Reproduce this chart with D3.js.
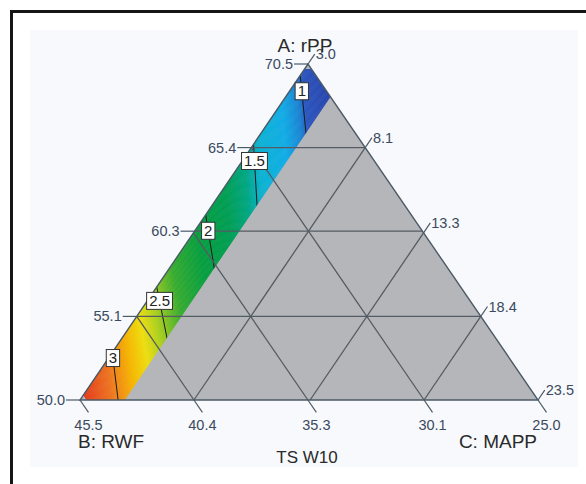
<!DOCTYPE html>
<html>
<head>
<meta charset="utf-8">
<script src="https://cdn.jsdelivr.net/npm/d3@7"></script>
<style>
  body { margin: 0; background: #fff; }
</style>
</head>
<body>
<div id="chart"></div>
<script>
// mixture region: A + B + C = 98.5, each component spans 20.5
const aTicks = [50.0, 55.1, 60.3, 65.4, 70.5];
const bTicks = [45.5, 40.4, 35.3, 30.1, 25.0];
const cTicks = [3.0, 8.1, 13.3, 18.4, 23.5];
const axisNames = ["A: rPP", "B: RWF", "C: MAPP"];
const title = "TS W10";

// contour levels: A where each line meets C = 3.0 and where it meets C = 5.0
const levels = [1, 1.5, 2, 2.5, 3];
const aAtLowC = [69.8, 65.6, 61.3, 56.9, 52.9];
const aAtHighC = [66.3, 61.9, 58.05, 53.8, 49.5];
const labelC = [3.55, 3.55, 3.6, 3.55, 3.2];

// colour ramp of the response
const colorStops = [0.75, 0.98, 1.05, 1.2, 1.45, 1.6, 1.8, 2.1, 2.35, 2.55, 2.7, 2.85, 3.05, 3.4];
const colorList = ["#2a46ae", "#2b56c0", "#1c86d6", "#12aee8", "#0cb4d4", "#00a884", "#00a055",
                   "#07a040", "#38ad30", "#a8d020", "#f0e010", "#f8b800", "#f07820", "#e42a1e"];

// feasible (coloured) part of the simplex
const cMax = 5.0, aMax = 70.2, bMax = 45.2;

const width = 586, height = 484;
const total = aTicks[0] + bTicks[0] + cTicks[0]; // 98.5
const PA = [308, 64], PB = [80, 400], PC = [538, 400];

const fa = d3.scaleLinear().domain([aTicks[0], aTicks[4]]).range([0, 1]);
const fc = d3.scaleLinear().domain([cTicks[0], cTicks[4]]).range([0, 1]);

function xy(A, C) {
  const a = fa(A), c = fc(C), b = 1 - a - c;
  return [a * PA[0] + b * PB[0] + c * PC[0], a * PA[1] + b * PB[1] + c * PC[1]];
}

const svg = d3.select("#chart").append("svg")
  .attr("width", width).attr("height", height)
  .style("font-family", "'Liberation Sans', Arial, sans-serif");

// frame + faint panel
svg.append("rect").attr("x", 30).attr("y", 30).attr("width", 548).attr("height", 437)
  .attr("fill", "#f7f9fc");
svg.append("rect").attr("x", 11.5).attr("y", 11.5).attr("width", 700).attr("height", 600)
  .attr("fill", "none").attr("stroke", "#151515").attr("stroke-width", 3);

// grey triangle
svg.append("path")
  .attr("d", "M" + [PA, PB, PC].join("L") + "Z")
  .attr("fill", "#b5b6b9");

// feasible strip
const strip = [
  [aMax, cTicks[0]], [aMax, total - aMax - bTicks[4]], [total - cMax - bTicks[4], cMax],
  [aTicks[0], cMax], [aTicks[0], total - aTicks[0] - bMax], [total - bMax - cTicks[0], cTicks[0]]
].map(d => xy(d[0], d[1]));

svg.append("clipPath").attr("id", "strip-clip")
  .append("path").attr("d", "M" + strip.join("L") + "Z");

const color = d3.scaleLinear().domain(colorStops).range(colorList).clamp(true);
const aLow = d3.scaleLinear().domain(levels).range(aAtLowC);
const aHigh = d3.scaleLinear().domain(levels).range(aAtHighC);

// isoline through level t, in pixel coords, stretched past the strip
function iso(t) {
  const a0 = aLow(t), a1 = aHigh(t);
  const c0 = 2, c1 = 6;
  const aAt = c => a0 + (a1 - a0) * (c - cTicks[0]) / (cMax - cTicks[0]);
  return [xy(aAt(c0), c0), xy(aAt(c1), c1)];
}

const fill = svg.append("g").attr("clip-path", "url(#strip-clip)");
const step = 0.01;
const bands = d3.range(colorStops[0], colorStops[colorStops.length - 1], step);
fill.selectAll("path")
  .data(bands)
  .join("path")
  .attr("d", t => {
    const l0 = iso(t), l1 = iso(t + step);
    return "M" + [l0[0], l0[1], l1[1], l1[0]].join("L") + "Z";
  })
  .attr("fill", t => color(t + step / 2))
  .attr("stroke", t => color(t + step / 2))
  .attr("stroke-width", 0.6);

// contour lines
fill.selectAll("line.contour")
  .data(levels)
  .join("line")
  .attr("class", "contour")
  .attr("x1", t => iso(t)[0][0]).attr("y1", t => iso(t)[0][1])
  .attr("x2", t => iso(t)[1][0]).attr("y2", t => iso(t)[1][1])
  .attr("stroke", "#1a1a1a").attr("stroke-width", 1);

// grid lines
const grid = svg.append("g").attr("stroke", "#545b63").attr("stroke-width", 1.3);
aTicks.slice(1, 4).forEach(A => {
  const p = xy(A, cTicks[0]), q = xy(A, total - A - bTicks[4]);
  grid.append("line").attr("x1", p[0]).attr("y1", p[1]).attr("x2", q[0]).attr("y2", q[1]);
});
bTicks.slice(1, 4).forEach(B => {
  const p = xy(aTicks[0], total - aTicks[0] - B), q = xy(total - B - cTicks[0], cTicks[0]);
  grid.append("line").attr("x1", p[0]).attr("y1", p[1]).attr("x2", q[0]).attr("y2", q[1]);
});
cTicks.slice(1, 4).forEach(C => {
  const p = xy(aTicks[0], C), q = xy(total - C - bTicks[4], C);
  grid.append("line").attr("x1", p[0]).attr("y1", p[1]).attr("x2", q[0]).attr("y2", q[1]);
});

// outline
svg.append("path")
  .attr("d", "M" + [PA, PB, PC].join("L") + "Z")
  .attr("fill", "none").attr("stroke", "#4b5a66").attr("stroke-width", 1.4);

// ticks + labels
const tickColor = "#3b4a5e";
const ticks = svg.append("g").attr("stroke", "#4b5a66").attr("stroke-width", 1.2);
const tickText = svg.append("g").attr("fill", tickColor).style("font-size", "14.5px");
const fmt = d3.format(".1f");

aTicks.forEach(A => {
  const p = xy(A, cTicks[0]);
  ticks.append("line").attr("x1", p[0]).attr("y1", p[1]).attr("x2", p[0] - 14).attr("y2", p[1]);
  tickText.append("text").attr("x", p[0] - 15).attr("y", p[1]).attr("dy", "0.35em")
    .attr("text-anchor", "end").text(fmt(A));
});
const dB = [0.565, 0.825], dC = [0.561, -0.827];
bTicks.forEach(B => {
  const p = xy(aTicks[0], total - aTicks[0] - B);
  const e = [p[0] + dB[0] * 15, p[1] + dB[1] * 15];
  ticks.append("line").attr("x1", p[0]).attr("y1", p[1]).attr("x2", e[0]).attr("y2", e[1]);
  tickText.append("text").attr("x", e[0]).attr("y", e[1] + 18)
    .attr("text-anchor", "middle").text(fmt(B));
});
cTicks.forEach(C => {
  const p = xy(total - C - bTicks[4], C);
  const e = [p[0] + dC[0] * 12, p[1] + dC[1] * 12];
  ticks.append("line").attr("x1", p[0]).attr("y1", p[1]).attr("x2", e[0]).attr("y2", e[1]);
  tickText.append("text").attr("x", e[0] + 1).attr("y", e[1]).attr("dy", "0.35em")
    .attr("text-anchor", "start").text(fmt(C));
});

// contour labels
levels.forEach((t, i) => {
  const C = labelC[i];
  const A = aLow(t) + (aHigh(t) - aLow(t)) * (C - cTicks[0]) / (cMax - cTicks[0]);
  const p = xy(A, C);
  const g = svg.append("g").attr("transform", `translate(${p[0]},${p[1]})`);
  const box = g.append("rect");
  const txt = g.append("text").attr("text-anchor", "middle").attr("dy", "0.35em")
    .style("font-size", "15px").attr("fill", "#222").text(t);
  const w = txt.node().getComputedTextLength() + 5;
  box.attr("x", -w / 2).attr("y", -8.5).attr("width", w).attr("height", 17)
    .attr("fill", "#fff").attr("stroke", "#333").attr("stroke-width", 1);
});

// axis titles
const titles = svg.append("g").attr("fill", "#2a2a2a").style("font-size", "19px");
titles.append("text").attr("x", 305).attr("y", 52).attr("text-anchor", "middle").text(axisNames[0]);
titles.append("text").attr("x", 78).attr("y", 448).attr("text-anchor", "start").text(axisNames[1]);
titles.append("text").attr("x", 537).attr("y", 448).attr("text-anchor", "end").text(axisNames[2]);
svg.append("text").attr("x", 307).attr("y", 463).attr("text-anchor", "middle")
  .attr("fill", "#2a2a2a").style("font-size", "17px").text(title);
</script>
</body>
</html>
